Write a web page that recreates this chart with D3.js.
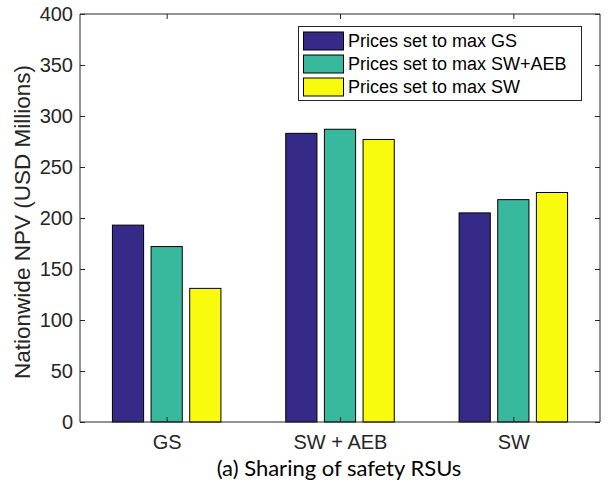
<!DOCTYPE html>
<html><head><meta charset="utf-8">
<script src="https://cdn.jsdelivr.net/npm/d3@7"></script>
<style>body{margin:0;background:#fff}svg{display:block}</style>
</head><body><svg id="c" width="608" height="491"></svg>
<script>
const categories = ["GS", "SW + AEB", "SW"];
const seriesNames = ["Prices set to max GS", "Prices set to max SW+AEB", "Prices set to max SW"];
const seriesColors = ["#352a87", "#38b99e", "#f9fb0e"];
const maxGS = [193, 172, 131];
const maxSWAEB = [283, 287, 277];
const maxSW = [205, 218, 225];
const yTicks = [0, 50, 100, 150, 200, 250, 300, 350, 400];

const values = [maxGS, maxSWAEB, maxSW]; // by category
const svg = d3.select("#c");
const L = 80, R = 600, T = 14, B = 422;
const font = "'Liberation Sans', Arial, sans-serif";
const axisColor = "#262626";

const x = d3.scaleLinear().domain([0.5, 3.5]).range([L, R]);
const y = d3.scaleLinear().domain([0, 400]).range([B, T]);
const barW = 0.18, step = 0.223;

const g = svg.append("g");
categories.forEach((c, i) => {
  values[i].forEach((v, j) => {
    const cx = (i + 1) + (j - 1) * step;
    g.append("rect")
      .attr("x", x(cx - barW / 2)).attr("width", x(cx + barW / 2) - x(cx - barW / 2))
      .attr("y", y(v)).attr("height", y(0) - y(v))
      .attr("fill", seriesColors[j]).attr("stroke", "#000").attr("stroke-width", 1);
  });
});

// axes
const yAxisL = d3.axisLeft(y).tickValues(yTicks).tickSize(-5).tickPadding(7);
const yAxisR = d3.axisRight(y).tickValues(yTicks).tickSize(-5).tickFormat("");
const xAxisB = d3.axisBottom(x).tickValues([1, 2, 3]).tickSize(-5).tickPadding(13).tickFormat((d) => categories[d - 1]);
const xAxisT = d3.axisTop(x).tickValues([1, 2, 3]).tickSize(-5).tickFormat("");
function style(sel) {
  sel.selectAll("path").attr("stroke", axisColor).attr("stroke-width", 1);
  sel.selectAll("line").attr("stroke", axisColor);
  sel.selectAll("text").attr("fill", axisColor).style("font-family", font).style("font-size", "20px");
}
svg.append("g").attr("transform", `translate(${L},0)`).call(yAxisL).call(style).select(".domain").attr("d", `M0,${B}V${T}`);
svg.append("g").attr("transform", `translate(${R},0)`).call(yAxisR).call(style).select(".domain").attr("d", `M0,${B}V${T}`);
svg.append("g").attr("transform", `translate(0,${B})`).call(xAxisB).call(style).select(".domain").attr("d", `M${L},0H${R}`);
svg.append("g").attr("transform", `translate(0,${T})`).call(xAxisT).call(style).select(".domain").attr("d", `M${L},0H${R}`);

// y label
svg.append("text").attr("transform", `translate(30,222) rotate(-90)`)
  .attr("text-anchor", "middle").attr("fill", axisColor)
  .style("font-family", font).style("font-size", "22.5px")
  .text("Nationwide NPV (USD Millions)");

// caption
svg.append("text").attr("x", 339).attr("y", 476).attr("text-anchor", "middle")
  .attr("fill", "#000").style("font-family", "Lato, 'Open Sans', sans-serif").style("font-size", "22px")
  .text("(a) Sharing of safety RSUs");

// legend
const lg = svg.append("g");
lg.append("rect").attr("x", 298.5).attr("y", 26.5).attr("width", 283).attr("height", 74)
  .attr("fill", "#fff").attr("stroke", axisColor).attr("stroke-width", 1);
seriesNames.forEach((n, j) => {
  const cy = 41 + j * 23;
  lg.append("rect").attr("x", 303.5).attr("y", cy - 9).attr("width", 40).attr("height", 18)
    .attr("fill", seriesColors[j]).attr("stroke", "#000");
  lg.append("text").attr("x", 348).attr("y", cy + 6).attr("fill", "#000")
    .style("font-family", font).style("font-size", "18px").text(n);
});
</script></body></html>
